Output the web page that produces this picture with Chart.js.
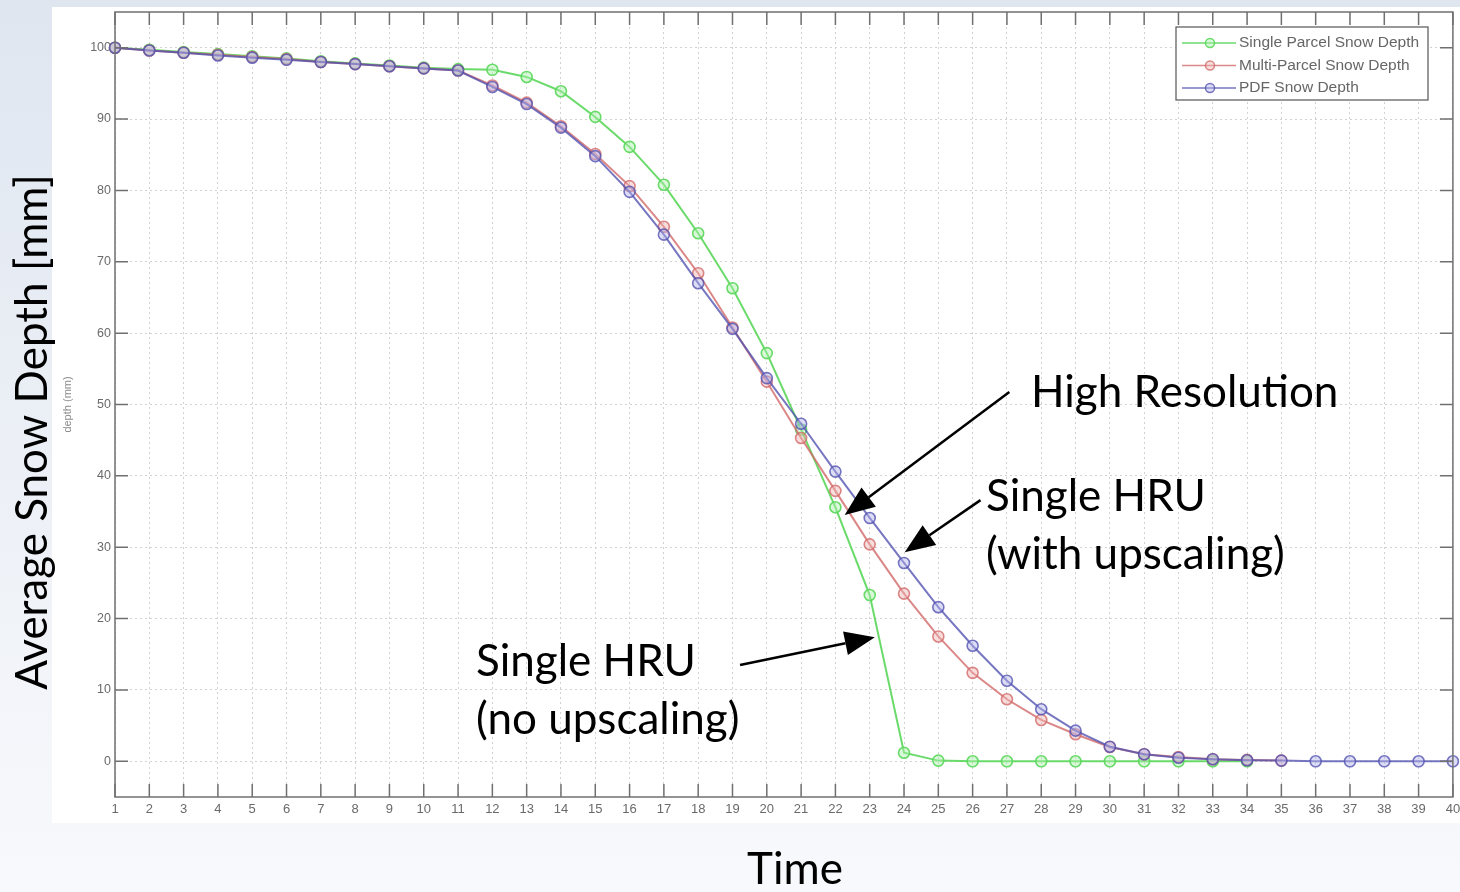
<!DOCTYPE html>
<html>
<head>
<meta charset="utf-8">
<title>Average Snow Depth</title>
<script src="https://cdn.jsdelivr.net/npm/chart.js@4.4.1/dist/chart.umd.min.js"></script>
<style>
  html, body { margin: 0; padding: 0; background: #eef2f8; }
  #chart { display: block; }
</style>
</head>
<body>
<canvas id="chart" width="1460" height="892"></canvas>
<script>
// Time steps (x axis) and depth ticks (y axis)
const timeSteps = [1, 2, 3, 4, 5, 6, 7, 8, 9, 10, 11, 12, 13, 14, 15, 16, 17, 18, 19, 20,
                   21, 22, 23, 24, 25, 26, 27, 28, 29, 30, 31, 32, 33, 34, 35, 36, 37, 38, 39, 40];
const depthTicks = [0, 10, 20, 30, 40, 50, 60, 70, 80, 90, 100];

// Snow depth series (mm)
const singleParcelDepth = [100, 99.7, 99.4, 99.1, 98.8, 98.5, 98.1, 97.8, 97.5, 97.2, 97.0,
                           96.9, 95.9, 93.9, 90.3, 86.1, 80.8, 74.0, 66.3, 57.2, 46.5, 35.6, 23.3,
                           1.2, 0.1, 0, 0, 0, 0, 0, 0, 0, 0, 0];
const multiParcelDepth = [100, 99.6, 99.3, 99.0, 98.7, 98.4, 98.0, 97.7, 97.4, 97.1, 96.8,
                          94.7, 92.3, 89.0, 85.1, 80.6, 74.9, 68.4, 60.8, 53.2, 45.3, 37.9, 30.4,
                          23.5, 17.5, 12.4, 8.7, 5.8, 3.8, 2.0, 1.0, 0.6, 0.3, 0.2, 0.1];
const pdfDepth = [100, 99.6, 99.3, 98.9, 98.6, 98.3, 98.0, 97.7, 97.4, 97.1, 96.8,
                  94.5, 92.1, 88.8, 84.8, 79.8, 73.8, 67.0, 60.6, 53.7, 47.3, 40.6, 34.1,
                  27.8, 21.6, 16.2, 11.3, 7.3, 4.3, 2.05, 1.0, 0.5, 0.3, 0.15, 0.1, 0, 0, 0, 0, 0];

const seriesLabels = ['Single Parcel Snow Depth', 'Multi-Parcel Snow Depth', 'PDF Snow Depth'];
const seriesColors = ['rgba(90, 215, 90, 0.9)', 'rgba(210, 105, 105, 0.8)', 'rgba(80, 80, 175, 0.78)'];
const markerFills = ['rgba(170, 240, 170, 0.45)', 'rgba(240, 180, 180, 0.45)', 'rgba(180, 180, 235, 0.45)'];

// Slide annotations: text in pixels, arrows in data coordinates [time, depth]
const slideFont = 'Lato, "Open Sans", sans-serif';
const notes = [
  { text: 'High Resolution', x: 1031, y: 393 },
  { text: 'Single HRU', x: 986, y: 497 },
  { text: '(with upscaling)', x: 986, y: 555 },
  { text: 'Single HRU', x: 476, y: 662 },
  { text: '(no upscaling)', x: 476, y: 720 }
];
const arrows = [
  { from: [27.07, 51.75], to: [22.27, 34.5] },
  { from: [26.23, 36.6], to: [24.02, 29.3] },
  { from: [19.22, 13.5], to: [23.15, 17.4] }
];

function toPoints(values) {
  return values.map((v, i) => ({ x: timeSteps[i], y: v }));
}

function drawArrow(ctx, x1, y1, x2, y2) {
  const ang = Math.atan2(y2 - y1, x2 - x1);
  const len = 30, half = 12;
  const bx = x2 - len * Math.cos(ang), by = y2 - len * Math.sin(ang);
  ctx.beginPath();
  ctx.moveTo(x1, y1);
  ctx.lineTo(bx, by);
  ctx.stroke();
  ctx.beginPath();
  ctx.moveTo(x2, y2);
  ctx.lineTo(bx + half * Math.sin(ang), by - half * Math.cos(ang));
  ctx.lineTo(bx - half * Math.sin(ang), by + half * Math.cos(ang));
  ctx.closePath();
  ctx.fill();
}

const slidePlugin = {
  id: 'slide',
  beforeDraw(chart) {
    const ctx = chart.ctx;
    ctx.save();
    const g = ctx.createLinearGradient(0, 0, 0, chart.height);
    g.addColorStop(0, '#dfe6f0');
    g.addColorStop(1, '#f8f9fc');
    ctx.fillStyle = g;
    ctx.fillRect(0, 0, chart.width, chart.height);
    ctx.fillStyle = '#ffffff';
    ctx.fillRect(52, 7, 1408, 816);
    ctx.restore();
  },
  afterDatasetsDraw(chart) {
    const { ctx, chartArea: a, scales: { x, y } } = chart;
    ctx.save();
    // axes box with inward ticks
    ctx.strokeStyle = '#707070';
    ctx.lineWidth = 1.5;
    ctx.strokeRect(a.left, a.top, a.right - a.left, a.bottom - a.top);
    ctx.beginPath();
    x.ticks.forEach(t => {
      const px = x.getPixelForValue(t.value);
      ctx.moveTo(px, a.bottom); ctx.lineTo(px, a.bottom - 13);
      ctx.moveTo(px, a.top); ctx.lineTo(px, a.top + 13);
    });
    y.ticks.forEach(t => {
      const py = y.getPixelForValue(t.value);
      ctx.moveTo(a.left, py); ctx.lineTo(a.left + 13, py);
      ctx.moveTo(a.right, py); ctx.lineTo(a.right - 13, py);
    });
    ctx.stroke();

    // legend box, top right inside axes
    const lx = 1176, ly = 27, lw = 252, lh = 73;
    ctx.fillStyle = '#ffffff';
    ctx.fillRect(lx, ly, lw, lh);
    ctx.strokeStyle = '#555555';
    ctx.lineWidth = 1.2;
    ctx.strokeRect(lx, ly, lw, lh);
    ctx.font = '15.5px "Liberation Sans", Arial, sans-serif';
    ctx.textBaseline = 'middle';
    chart.data.datasets.forEach((ds, i) => {
      const ry = 43 + i * 22.5;
      ctx.strokeStyle = ds.borderColor;
      ctx.lineWidth = 1.5;
      ctx.beginPath();
      ctx.moveTo(lx + 6, ry); ctx.lineTo(lx + 60, ry);
      ctx.stroke();
      ctx.beginPath();
      ctx.arc(lx + 34, ry, 4.5, 0, Math.PI * 2);
      ctx.fillStyle = ds.pointBackgroundColor;
      ctx.fill();
      ctx.stroke();
      ctx.fillStyle = '#666666';
      ctx.fillText(ds.label, lx + 63, ry);
    });
    ctx.restore();
  },
  afterDraw(chart) {
    const { ctx, scales: { x, y } } = chart;
    ctx.save();
    ctx.fillStyle = '#000000';
    ctx.font = '44px ' + slideFont;
    ctx.textBaseline = 'middle';
    ctx.textAlign = 'left';
    notes.forEach(n => ctx.fillText(n.text, n.x, n.y));

    ctx.textAlign = 'center';
    ctx.fillText('Time', 795, 870);
    ctx.save();
    ctx.translate(33, 432);
    ctx.rotate(-Math.PI / 2);
    ctx.fillText('Average Snow Depth [mm]', 0, 0);
    ctx.restore();

    ctx.strokeStyle = '#000000';
    ctx.lineWidth = 2.5;
    arrows.forEach(ar => {
      drawArrow(ctx,
        x.getPixelForValue(ar.from[0]), y.getPixelForValue(ar.from[1]),
        x.getPixelForValue(ar.to[0]), y.getPixelForValue(ar.to[1]));
    });
    ctx.restore();
  }
};

const datasets = [singleParcelDepth, multiParcelDepth, pdfDepth].map((vals, i) => ({
  label: seriesLabels[i],
  data: toPoints(vals),
  borderColor: seriesColors[i],
  backgroundColor: seriesColors[i],
  pointBackgroundColor: markerFills[i],
  pointBorderColor: seriesColors[i],
  pointRadius: 5.5,
  pointBorderWidth: 1.6,
  borderWidth: 2,
  tension: 0,
  clip: false,
  order: 2 - i
}));

new Chart(document.getElementById('chart'), {
  type: 'line',
  data: { datasets },
  plugins: [slidePlugin],
  options: {
    responsive: false,
    animation: false,
    layout: { padding: { left: 0, top: 12, right: 3, bottom: 0 } },
    plugins: {
      legend: { display: false },
      tooltip: { enabled: false }
    },
    scales: {
      x: {
        type: 'linear',
        min: 1,
        max: 40,
        afterBuildTicks: s => { s.ticks = timeSteps.map(v => ({ value: v })); },
        afterFit: s => { s.height = 95; s.paddingLeft = 0; s.paddingRight = 0; },
        grid: { color: '#d2d2d2', lineWidth: 1, drawTicks: false },
        border: { display: false, dash: [2, 3] },
        ticks: {
          padding: 5,
          maxRotation: 0,
          autoSkip: false,
          color: '#6a6a6a',
          font: { family: '"Liberation Sans", Arial, sans-serif', size: 13 }
        }
      },
      y: {
        min: -5,
        max: 105,
        afterBuildTicks: s => { s.ticks = depthTicks.map(v => ({ value: v })); },
        afterFit: s => { s.width = 115; },
        grid: { color: '#d2d2d2', lineWidth: 1, drawTicks: false },
        border: { display: false, dash: [2, 3] },
        ticks: {
          padding: 4,
          color: '#6a6a6a',
          font: { family: '"Liberation Sans", Arial, sans-serif', size: 12.5 }
        },
        title: {
          display: true,
          text: 'depth (mm)',
          color: '#8a8a8a',
          font: { family: '"Liberation Sans", Arial, sans-serif', size: 11 },
          padding: { top: 61, bottom: 0 }
        }
      }
    }
  }
});
</script>
</body>
</html>
